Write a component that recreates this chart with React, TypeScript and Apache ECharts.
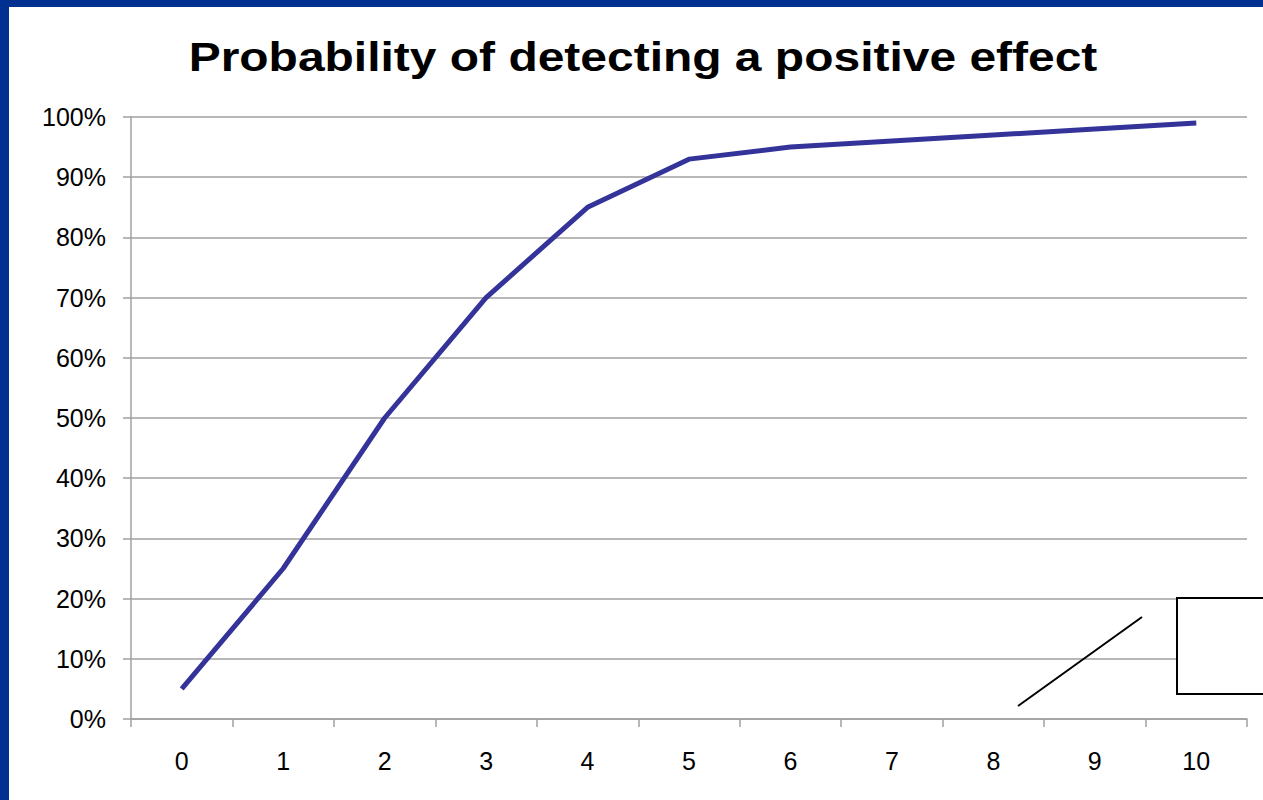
import React, { useEffect, useRef } from "react";
import * as echarts from "echarts";

const categories = ["0", "1", "2", "3", "4", "5", "6", "7", "8", "9", "10"];
const probability = [5, 25, 50, 70, 85, 93, 95, 96, 97, 98, 99];
const titleText = "Probability of detecting a positive effect";

export default function App() {
  const ref = useRef<HTMLDivElement>(null);
  useEffect(() => {
    const chart = echarts.init(ref.current!, null, { renderer: "svg" });
    chart.setOption({
      animation: false,
      backgroundColor: "#ffffff",
      grid: { left: 131, right: 16, top: 117, bottom: 81, containLabel: false },
      xAxis: {
        type: "category",
        data: categories,
        boundaryGap: true,
        axisLine: { lineStyle: { color: "#a0a0a0", width: 1.5 } },
        axisTick: { show: true, length: 8, lineStyle: { color: "#a0a0a0", width: 1.5 } },
        axisLabel: {
          margin: 29,
          fontFamily: "Liberation Sans",
          fontSize: 25,
          color: "#000",
        },
      },
      yAxis: {
        type: "value",
        min: 0,
        max: 100,
        interval: 10,
        axisLine: { show: true, lineStyle: { color: "#a0a0a0", width: 1.5 } },
        axisTick: { show: true, length: 8, lineStyle: { color: "#a0a0a0", width: 1.5 } },
        splitLine: { lineStyle: { color: "#a0a0a0", width: 1.5 } },
        axisLabel: {
          formatter: "{value}%",
          margin: 25,
          fontFamily: "Liberation Sans",
          fontSize: 25,
          color: "#000",
        },
      },
      series: [
        {
          type: "line",
          data: probability,
          showSymbol: false,
          symbol: "none",
          lineStyle: { color: "#333399", width: 5 },
        },
      ],
      graphic: [
        { type: "rect", shape: { x: 0, y: 0, width: 1263, height: 7 }, style: { fill: "#003090" }, z: 100 },
        { type: "rect", shape: { x: 0, y: 0, width: 9, height: 800 }, style: { fill: "#003090" }, z: 100 },
        {
          type: "text",
          x: 643,
          y: 57,
          scaleX: 1.17,
          style: {
            text: titleText,
            x: 0,
            y: 0,
            textAlign: "center",
            textVerticalAlign: "middle",
            fontFamily: "Liberation Sans",
            fontWeight: "bold",
            fontSize: 41,
            fill: "#000",
          },
          z: 100,
        },
        {
          type: "line",
          shape: { x1: 1018, y1: 706, x2: 1142, y2: 617 },
          style: { stroke: "#000", lineWidth: 2 },
          z: 100,
        },
        {
          type: "rect",
          shape: { x: 1177, y: 598, width: 100, height: 96 },
          style: { fill: "#fff", stroke: "#000", lineWidth: 2 },
          z: 100,
        },
      ],
    });
    return () => chart.dispose();
  }, []);
  return (
    <div
      ref={ref}
      style={{ position: "fixed", left: 0, top: 0, width: 1263, height: 800 }}
    />
  );
}
